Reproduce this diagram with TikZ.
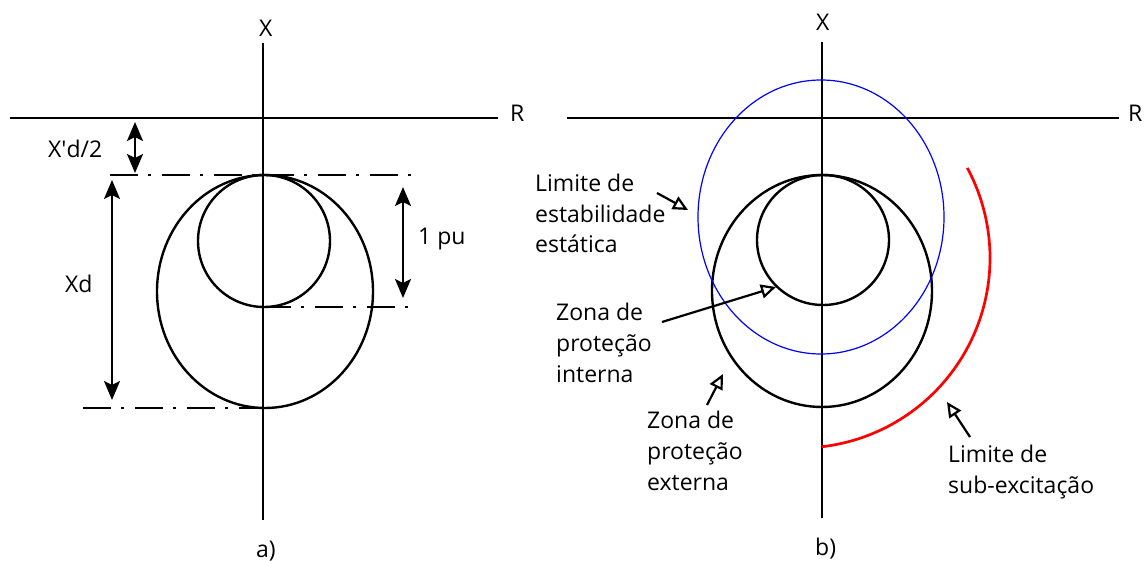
\documentclass[tikz,border=0pt]{standalone}
\usepackage{fontspec}
\setmainfont{Open Sans}
\usetikzlibrary{arrows.meta}
\begin{document}
\begin{tikzpicture}[x=1pt,y=-1pt,
  axis/.style={line width=2.3pt},
  curve/.style={line width=2.4pt},
  dimline/.style={line width=2.3pt, dash pattern=on 28pt off 10pt on 3pt off 11pt},
  dimarrow/.style={line width=2.3pt, {Stealth[length=19pt,width=16pt,inset=4pt]}-{Stealth[length=19pt,width=16pt,inset=4pt]}},
  callout/.style={line width=2.2pt, -{Triangle[open,length=15pt,width=14pt,fill=white]}},
  lbl/.style={font=\fontsize{23}{30.8}\selectfont, inner sep=0pt, align=left, anchor=base west},
]
\useasboundingbox (0,0) rectangle (1148,561);
% ---------- a) ----------
\coordinate (aXt) at (263,43);
\coordinate (aXb) at (263,520);
\coordinate (aRl) at (10,118);
\coordinate (aRr) at (498,118);
\draw[axis] (aXt) -- (aXb);
\draw[axis] (aRl) -- (aRr);
\draw[curve] (264,241) ellipse [x radius=66, y radius=66];
\draw[curve] (265,291.5) ellipse [x radius=108, y radius=116.5];
\coordinate (aT1) at (110,175); \coordinate (aT2) at (416,175);
\coordinate (aM1) at (263,307); \coordinate (aM2) at (414,307);
\coordinate (aB1) at (83,408);  \coordinate (aB2) at (263,408);
\draw[dimline] (aT1) -- (aT2);
\draw[dimline] (aM1) -- (aM2);
\draw[dimline] (aB1) -- (aB2);
\coordinate (xp1) at (135,122); \coordinate (xp2) at (135,173);
\coordinate (xd1) at (112,180); \coordinate (xd2) at (112,400);
\coordinate (pu1) at (403,187); \coordinate (pu2) at (403,298);
\draw[dimarrow] (xp1) -- (xp2);
\draw[dimarrow] (xd1) -- (xd2);
\draw[dimarrow] (pu1) -- (pu2);
\node[lbl] (laX) at (259,37) {X};
\node[lbl] (laR) at (510,122) {R};
\node[lbl] (laXp) at (48,158) {X\textquotesingle d/2};
\node[lbl] (laXd) at (65,293) {Xd};
\node[lbl] (lapu) at (418,245) {1 pu};
\node[lbl] (laa) at (256,557) {a)};
% ---------- b) ----------
\coordinate (bXt) at (822,42);
\coordinate (bXb) at (822,518);
\coordinate (bRl) at (567,118);
\coordinate (bRr) at (1119,118);
\draw[axis] (bXt) -- (bXb);
\draw[axis] (bRl) -- (bRr);
\draw[curve] (823,240) ellipse [x radius=66, y radius=65];
\draw[curve] (822,291) ellipse [x radius=110, y radius=116];
\draw[blue, line width=1.2pt] (821,217) ellipse [x radius=123, y radius=137];
\draw[red, line width=2.7pt] plot[domain=-28.3:83.4, samples=80, smooth] ({800+190*cos(\x)},{258+190*sin(\x)});
\node[lbl] (lbX) at (816,31) {X};
\node[lbl] (lbR) at (1128,122) {R};
\node[lbl] (lbb) at (815,555) {b)};
\node[lbl] (lest) at (535,253) {Limite de\\estabilidade\\estática};
\node[lbl] (lzi) at (556,382) {Zona de\\proteção\\interna};
\node[lbl] (lze) at (647,490) {Zona de\\proteção\\externa};
\node[lbl] (lsub) at (948,493) {Limite de\\sub-excitação};
\coordinate (ce1) at (657,193); \coordinate (ce2) at (688,210);
\coordinate (ci1) at (662,322); \coordinate (ci2) at (776,287);
\coordinate (cx1) at (707,405); \coordinate (cx2) at (723,374);
\coordinate (cs1) at (970,437); \coordinate (cs2) at (947,402);
\draw[callout] (ce1) -- (ce2);
\draw[callout] (ci1) -- (ci2);
\draw[callout] (cx1) -- (cx2);
\draw[callout] (cs1) -- (cs2);
\end{tikzpicture}
\end{document}
